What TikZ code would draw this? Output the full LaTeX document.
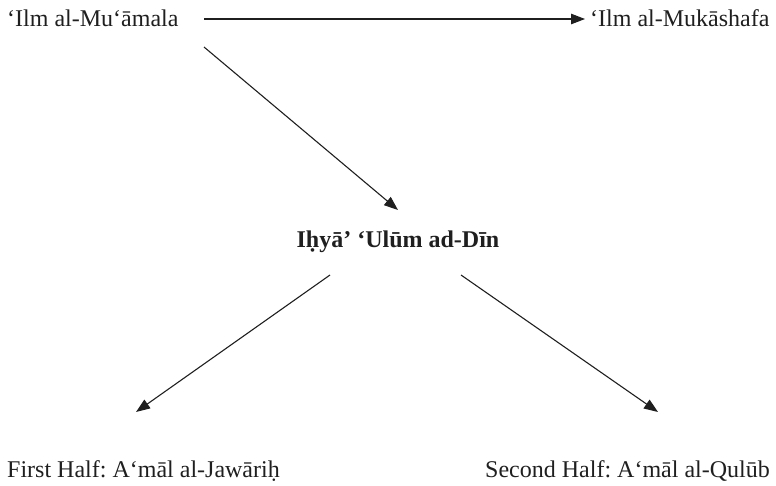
\documentclass[tikz,border=0pt]{standalone}
\usepackage{fontspec}
\setmainfont{Liberation Serif}
\usetikzlibrary{arrows.meta}
\frenchspacing
\begin{document}
\begin{tikzpicture}[x=1pt,y=-1pt,
  lbl/.style={inner sep=0pt,font=\fontsize{24}{28}\selectfont,text=black!88},
  arr/.style={line width=1.1pt,draw=black!88,-{Triangle[length=14pt,width=10.5pt]}}]
\useasboundingbox (0,0) rectangle (776,485);
\node[lbl,anchor=base west] (m) at (7,26) {‘Ilm al-Mu‘āmala};
\node[lbl,anchor=base west] (k) at (590,26) {‘Ilm al-Mukāshafa};
\node[lbl,anchor=base,font=\fontsize{24}{28}\selectfont\bfseries] (c) at (398,247) {Iḥyā’ ‘Ulūm ad-Dīn};
\node[lbl,anchor=base west] (f) at (7,477) {First Half: A‘māl al-Jawāriḥ};
\node[lbl,anchor=base east] (s) at (770,477) {Second Half: A‘māl al-Qulūb};
\coordinate (p1) at (204,19);
\coordinate (p2) at (585,19);
\coordinate (p3) at (204,47);
\coordinate (p4) at (398,210);
\coordinate (p5) at (330,275);
\coordinate (p6) at (136,412);
\coordinate (p7) at (461,275);
\coordinate (p8) at (658,412);
\draw[arr] (p1) -- (p2);
\draw[arr] (p3) -- (p4);
\draw[arr] (p5) -- (p6);
\draw[arr] (p7) -- (p8);
\end{tikzpicture}
\end{document}
